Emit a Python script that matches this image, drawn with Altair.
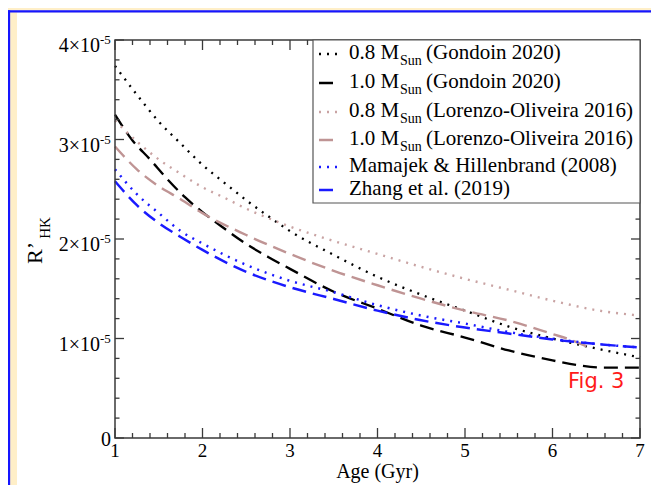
import altair as alt
import pandas as pd

# ---------------- data: R'HK in units of 1e-5 versus age (Gyr) ----------------
age_gon08 = [1.0, 1.25, 1.5, 1.75, 2.0, 2.25, 2.5, 2.75, 3.0, 3.5, 4.0, 4.5, 5.0, 5.5, 6.0, 6.5, 7.0]
rhk_gon08 = [3.74, 3.45, 3.18, 2.96, 2.745, 2.565, 2.39, 2.23, 2.08, 1.84, 1.62, 1.44, 1.28, 1.12, 1.00, 0.90, 0.81]

age_gon10 = [1.0, 1.2, 1.4, 1.6, 1.8, 2.0, 2.25, 2.5, 2.75, 3.0, 3.5, 4.0, 4.5, 5.0, 5.5, 6.0, 6.3, 6.6, 7.0]
rhk_gon10 = [3.25, 2.99, 2.80, 2.60, 2.42, 2.27, 2.105, 1.95, 1.82, 1.70, 1.47, 1.30, 1.13, 1.01, 0.88, 0.78, 0.73, 0.707, 0.707]

age_lo08 = [1.0, 1.25, 1.5, 1.75, 2.0, 2.25, 2.5, 2.75, 3.0, 3.5, 4.0, 4.5, 5.0, 5.5, 6.0, 6.5, 7.0]
rhk_lo08 = [3.19, 2.98, 2.80, 2.655, 2.52, 2.415, 2.305, 2.21, 2.125, 1.98, 1.85, 1.72, 1.60, 1.49, 1.38, 1.285, 1.23]

age_lo10 = [1.0, 1.25, 1.5, 1.75, 2.0, 2.5, 3.0, 3.5, 4.0, 4.5, 5.0, 5.5, 6.0, 6.2, 6.43]
rhk_lo10 = [2.93, 2.70, 2.53, 2.40, 2.26, 2.04, 1.85, 1.68, 1.535, 1.40, 1.28, 1.18, 1.045, 0.99, 0.905]

age_mh08 = [1.0, 1.25, 1.5, 1.75, 2.0, 2.5, 3.0, 3.5, 4.0, 4.5, 5.0, 5.5, 6.0, 6.5, 7.0]
rhk_mh08 = [2.70, 2.45, 2.26, 2.08, 1.955, 1.74, 1.58, 1.465, 1.335, 1.23, 1.15, 1.065, 0.997, 0.946, 0.91]

age_z19 = [1.0, 1.25, 1.5, 1.75, 2.0, 2.5, 3.0, 3.5, 4.0, 4.5, 5.0, 5.5, 6.0, 6.5, 7.0]
rhk_z19 = [2.58, 2.34, 2.16, 2.02, 1.89, 1.67, 1.515, 1.397, 1.28, 1.183, 1.11, 1.05, 0.99, 0.945, 0.91]

series_keys = ["g08", "g10", "l08", "l10", "mh", "zh"]
series_ages = [age_gon08, age_gon10, age_lo08, age_lo10, age_mh08, age_z19]
series_vals = [rhk_gon08, rhk_gon10, rhk_lo08, rhk_lo10, rhk_mh08, rhk_z19]

legend_prefix = ["0.8 M", "1.0 M", "0.8 M", "1.0 M", "Mamajek & Hillenbrand (2008)", "Zhang et al. (2019)"]
legend_sub = ["Sun", "Sun", "Sun", "Sun", "", ""]
legend_rest = ["(Gondoin 2020)", "(Gondoin 2020)", "(Lorenzo-Oliveira 2016)", "(Lorenzo-Oliveira 2016)", "", ""]

x_major = [1, 2, 3, 4, 5, 6, 7]
x_labels = ["1", "2", "3", "4", "5", "6", "7"]
y_major = [0, 1, 2, 3, 4]
y_labels = ["0", "1×10", "2×10", "3×10", "4×10"]
UNIT = 1e-5

# ---------------- styles ----------------
FONT = "Liberation Serif"
FRAME = "#3a3a3a"
W, H = 525, 398
colors = ["#000000", "#000000", "#c9a3a3", "#bf9494", "#1a1aff", "#1a1aff"]
dashes = [[2, 6], [14, 7], [2, 6], [14, 7], [2, 6], [14, 7]]
widths = [2.3, 2.5, 2.3, 2.5, 2.3, 2.5]

xsc = alt.Scale(domain=[1, 7], nice=False, zero=False)
ysc = alt.Scale(domain=[0, 4 * UNIT], nice=False, zero=False)


def X(f):
    return alt.X(f, type="quantitative", scale=xsc, axis=None)


def Y(f):
    return alt.Y(f, type="quantitative", scale=ysc, axis=None)


one = pd.DataFrame({"k": [0]})

rows = []
for key, ages, vals in zip(series_keys, series_ages, series_vals):
    for a, v in zip(ages, vals):
        rows.append({"series": key, "age": a, "rhk": v * UNIT})
df_lines = pd.DataFrame(rows)

layers = []

# panel background (white card with blue border on a pale yellow page)
layers.append(alt.Chart(one).mark_rect(fill="white", strokeWidth=0).encode(
    x=alt.value(-98), x2=alt.value(545), y=alt.value(-27.5), y2=alt.value(480)))
layers.append(alt.Chart(one).mark_rule(color="#1515ff", strokeWidth=2.3).encode(
    x=alt.value(-106), y=alt.value(-29.8), y2=alt.value(480)))
layers.append(alt.Chart(one).mark_rule(color="#1515ff", strokeWidth=2.3).encode(
    y=alt.value(-28.7), x=alt.value(-107.2), x2=alt.value(545)))

# curves
layers.append(alt.Chart(df_lines).mark_line(interpolate="monotone", strokeCap="butt").encode(
    x=X("age"), y=Y("rhk"),
    color=alt.Color("series:N", scale=alt.Scale(domain=series_keys, range=colors), legend=None),
    strokeDash=alt.StrokeDash("series:N", scale=alt.Scale(domain=series_keys, range=dashes), legend=None),
    strokeWidth=alt.StrokeWidth("series:N", scale=alt.Scale(domain=series_keys, range=widths), legend=None),
))

# plot frame
layers.append(alt.Chart(one).mark_rect(fillOpacity=0, stroke=FRAME, strokeWidth=1.5).encode(
    x=alt.value(0), x2=alt.value(W), y=alt.value(0), y2=alt.value(H)))

# inward ticks on all four sides
x_minor = [m + f for m in range(1, 7) for f in (0.2, 0.4, 0.6, 0.8)]
y_minor = [(m + f) * UNIT for m in range(0, 4) for f in (0.2, 0.4, 0.6, 0.8)]
df_xM = pd.DataFrame({"v": x_major})
df_xm = pd.DataFrame({"v": x_minor})
df_yM = pd.DataFrame({"v": [v * UNIT for v in y_major]})
df_ym = pd.DataFrame({"v": y_minor})
for df_t, ln in ((df_xM, 10), (df_xm, 5)):
    layers.append(alt.Chart(df_t).mark_rule(color=FRAME, strokeWidth=1.3).encode(
        x=X("v"), y=alt.value(H), y2=alt.value(H - ln)))
    layers.append(alt.Chart(df_t).mark_rule(color=FRAME, strokeWidth=1.3).encode(
        x=X("v"), y=alt.value(0), y2=alt.value(ln)))
for df_t, ln in ((df_yM, 9), (df_ym, 4.5)):
    layers.append(alt.Chart(df_t).mark_rule(color=FRAME, strokeWidth=1.3).encode(
        y=Y("v"), x=alt.value(0), x2=alt.value(ln)))
    layers.append(alt.Chart(df_t).mark_rule(color=FRAME, strokeWidth=1.3).encode(
        y=Y("v"), x=alt.value(W), x2=alt.value(W - ln)))

# x tick labels
df_xl = pd.DataFrame({"v": x_major, "t": x_labels})
layers.append(alt.Chart(df_xl).mark_text(font=FONT, fontSize=19, baseline="alphabetic", align="center",
                                         color="black").encode(x=X("v"), y=alt.value(417), text="t:N"))

# y tick labels with superscript exponent
df_yl = pd.DataFrame({"v": [v * UNIT for v in y_major[1:]], "t": y_labels[1:]})
layers.append(alt.Chart(df_yl).mark_text(font=FONT, fontSize=20, baseline="alphabetic", align="right",
                                         dy=12, color="black").encode(x=alt.value(-15), y=Y("v"), text="t:N"))
layers.append(alt.Chart(df_yl).mark_text(font=FONT, fontSize=13, baseline="alphabetic", align="left",
                                         dy=4, text="-5", color="black").encode(x=alt.value(-15), y=Y("v")))
df_y0 = pd.DataFrame({"v": [y_major[0] * UNIT], "t": [y_labels[0]]})
layers.append(alt.Chart(df_y0).mark_text(font=FONT, fontSize=20, baseline="alphabetic", align="right",
                                         dy=8, color="black").encode(x=alt.value(-4), y=Y("v"), text="t:N"))

# axis titles
layers.append(alt.Chart(one).mark_text(text="Age (Gyr)", font=FONT, fontSize=20, align="center",
                                       baseline="alphabetic", color="black").encode(
    x=alt.value(W / 2), y=alt.value(438)))
layers.append(alt.Chart(one).mark_text(text="R’", font=FONT, fontSize=22, angle=270, align="center",
                                       baseline="alphabetic", color="black").encode(
    x=alt.value(-73), y=alt.value(213)))
layers.append(alt.Chart(one).mark_text(text="HK", font=FONT, fontSize=15, angle=270, align="center",
                                       baseline="alphabetic", color="black").encode(
    x=alt.value(-65), y=alt.value(188)))

# legend box
layers.append(alt.Chart(one).mark_rect(fill="white", stroke="#555555", strokeWidth=1.2).encode(
    x=alt.value(198), x2=alt.value(W), y=alt.value(0), y2=alt.value(163)))
leg_base = [19, 48, 77, 105, 132, 155]
for i in range(6):
    b = leg_base[i]
    layers.append(alt.Chart(one).mark_rule(color=colors[i], strokeDash=dashes[i], strokeWidth=widths[i],
                                           strokeCap="butt").encode(
        x=alt.value(204), x2=alt.value(224), y=alt.value(b - 5)))
    layers.append(alt.Chart(one).mark_text(text=legend_prefix[i], font=FONT, fontSize=21, align="left",
                                           baseline="alphabetic", color="black").encode(
        x=alt.value(234), y=alt.value(b)))
    if legend_sub[i]:
        layers.append(alt.Chart(one).mark_text(text=legend_sub[i], font=FONT, fontSize=14, align="left",
                                               baseline="alphabetic", color="black").encode(
            x=alt.value(285), y=alt.value(b + 6)))
    if legend_rest[i]:
        layers.append(alt.Chart(one).mark_text(text=legend_rest[i], font=FONT, fontSize=21, align="left",
                                               baseline="alphabetic", color="black").encode(
            x=alt.value(311), y=alt.value(b)))

# figure tag
df_fig = pd.DataFrame({"age": [6.5], "rhk": [0.5 * UNIT], "t": ["Fig. 3"]})
layers.append(alt.Chart(df_fig).mark_text(font="DejaVu Sans", fontSize=21, color="#ff1a1a", align="center",
                                          baseline="alphabetic").encode(x=X("age"), y=Y("rhk"), text="t:N"))

chart = alt.layer(*layers).properties(
    width=W, height=H,
    padding={"left": 107, "top": 32, "right": 11, "bottom": 47},
    autosize=alt.AutoSizeParams(type="none"),
    background="#FFEFC8",
).configure_view(strokeWidth=0)

chart.save("out.html", embed_options={"renderer": "svg", "actions": False})
